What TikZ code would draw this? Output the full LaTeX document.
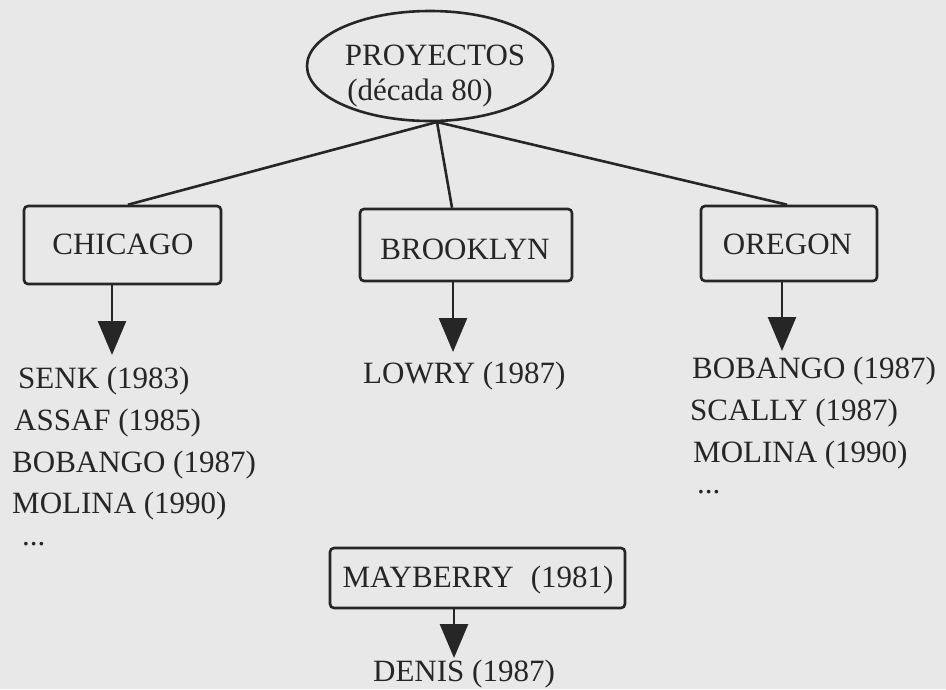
\documentclass[tikz,border=0pt]{standalone}
\usepackage{fontspec}
\setmainfont{Liberation Serif}
\usetikzlibrary{shapes.geometric,arrows.meta}
\definecolor{bg}{RGB}{232,232,232}
\definecolor{ink}{RGB}{38,38,38}
\begin{document}
\begin{tikzpicture}[x=1pt,y=-1pt,
  every node/.style={font=\fontsize{31}{36}\selectfont, text=ink, inner sep=0pt},
  line/.style={draw=ink, line width=2.6pt},
  boxnode/.style={draw=ink, line width=2.6pt, rounded corners=4pt},
  listtxt/.style={anchor=base west},
  downarrow/.style={draw=ink, line width=2.6pt, -{Triangle[width=28pt,length=34pt]}}]
\fill[bg] (0,0) rectangle (946,689);
\useasboundingbox (0,0) rectangle (946,689);
% top ellipse
\node[ellipse, draw=ink, line width=2.6pt, minimum width=246pt, minimum height=110pt, align=center] (proy) at (430,66) {};
\node[anchor=base] (proyt) at (435,65) {PROYECTOS};
\node[anchor=base] (proyd) at (420,100) {(década 80)};
\coordinate (fork) at (437,122);
% boxes
\node[boxnode, minimum width=197pt, minimum height=78pt] (chicago) at (122.5,245) {};
\node[anchor=base] (chicagot) at (123,254) {CHICAGO};
\node[boxnode, minimum width=212pt, minimum height=72pt] (brooklyn) at (466,245) {};
\node[anchor=base] (brooklynt) at (465,259) {BROOKLYN};
\node[boxnode, minimum width=176pt, minimum height=75pt] (oregon) at (789,243.5) {};
\node[anchor=base] (oregont) at (787.5,254) {OREGON};
\node[boxnode, minimum width=295pt, minimum height=60pt] (mayberry) at (477.5,578) {};
\node[anchor=base] (mayberryt) at (478,587) {MAYBERRY\hspace{0.3em} (1981)};
% connectors from ellipse
\draw[line] (fork) -- (chicago.north -| 128,0);
\draw[line] (fork) -- (brooklyn.north -| 452,0);
\draw[line] (fork) -- (oregon.north -| 787,0);
% arrows
\coordinate (t1) at (112,355);
\coordinate (t2) at (453,352);
\coordinate (t3) at (782,351);
\coordinate (t4) at (454,658);
\draw[downarrow] (chicago.south -| t1) -- (t1);
\draw[downarrow] (brooklyn.south -| t2) -- (t2);
\draw[downarrow] (oregon.south -| t3) -- (t3);
\draw[downarrow] (mayberry.south -| t4) -- (t4);
% lists
\node[listtxt] (c1) at (18,388) {SENK (1983)};
\node[listtxt] (c2) at (14,430) {ASSAF (1985)};
\node[listtxt] (c3) at (12,472) {BOBANGO (1987)};
\node[listtxt] (c4) at (12,513) {MOLINA (1990)};
\node[listtxt] (c5) at (22,545) {...};
\node[listtxt] (b1) at (363,383) {LOWRY (1987)};
\node[listtxt] (o1) at (692,378) {BOBANGO (1987)};
\node[listtxt] (o2) at (690,420) {SCALLY (1987)};
\node[listtxt] (o3) at (693,462) {MOLINA (1990)};
\node[listtxt] (o4) at (697,493) {...};
\node[anchor=base] (denis) at (464,681) {DENIS (1987)};
\end{tikzpicture}
\end{document}
